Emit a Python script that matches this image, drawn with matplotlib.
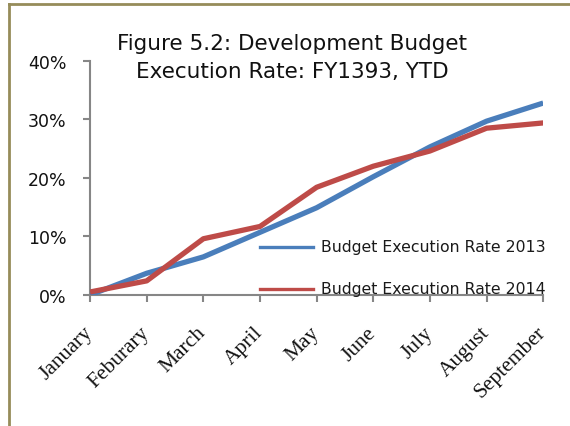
import matplotlib.pyplot as plt
from matplotlib.lines import Line2D
from matplotlib.ticker import FuncFormatter

# Monthly development budget execution rate (%)
months = ["January", "Feburary", "March", "April", "May",
          "June", "July", "August", "September"]
rate_2013 = [0.0, 3.7, 6.5, 10.7, 14.9, 20.2, 25.3, 29.7, 32.8]
rate_2014 = [0.5, 2.4, 9.6, 11.7, 18.4, 22.0, 24.6, 28.5, 29.4]

blue = "#4A7EBB"
red = "#BE4B48"
axis_gray = "#868686"

fig = plt.figure(figsize=(5.7, 4.27), dpi=100)
ax = fig.add_axes([0.158, 0.307, 0.795, 0.548])

x = list(range(len(months)))
ax.plot(x, rate_2013, color=blue, lw=3.8, solid_capstyle="butt", zorder=3)
ax.plot(x, rate_2014, color=red, lw=3.8, solid_capstyle="butt", zorder=4)

ax.set_xlim(0, len(months) - 1)
ax.set_ylim(0, 40)
ax.set_yticks([0, 10, 20, 30, 40])
ax.yaxis.set_major_formatter(FuncFormatter(lambda v, p: f"{v:.0f}%"))
ax.set_xticks(x)
ax.set_xticklabels(months, rotation=45, ha="right", va="center",
                   rotation_mode="anchor", family="Liberation Serif",
                   fontsize=15.5)

for side in ("top", "right"):
    ax.spines[side].set_visible(False)
for side in ("left", "bottom"):
    ax.spines[side].set_color(axis_gray)
    ax.spines[side].set_linewidth(1.5)
ax.tick_params(axis="both", color=axis_gray, width=1.5, length=5,
               direction="out", labelcolor="#111111")
ax.tick_params(axis="y", labelsize=12.5, pad=12)
ax.tick_params(axis="x", pad=20)

# Legend drawn by hand so the second entry can sit on the x axis
legend_rows = [(blue, "Budget Execution Rate 2013", 248),
               (red, "Budget Execution Rate 2014", 290)]
for color, label, ypix in legend_rows:
    yf = 1 - ypix / 427
    fig.add_artist(Line2D([260 / 570, 313 / 570], [yf, yf], color=color,
                          lw=2.4, transform=fig.transFigure, zorder=5))
    fig.text(321 / 570, yf, label, fontsize=11.3, va="center", ha="left",
             color="#1a1a1a", zorder=6)

fig.text(292 / 570, 1 - 58 / 427,
         "Figure 5.2: Development Budget\nExecution Rate: FY1393, YTD",
         ha="center", va="center", fontsize=15.5, linespacing=1.5,
         color="#111111")

# Outer frame (top and left edges)
frame = "#968C5A"
fig.add_artist(Line2D([9 / 570, 1.0], [1 - 5 / 427, 1 - 5 / 427],
                      color=frame, lw=2, transform=fig.transFigure))
fig.add_artist(Line2D([9 / 570, 9 / 570], [0, 1 - 5 / 427],
                      color=frame, lw=2, transform=fig.transFigure))

fig.savefig("out.png", dpi=100)
